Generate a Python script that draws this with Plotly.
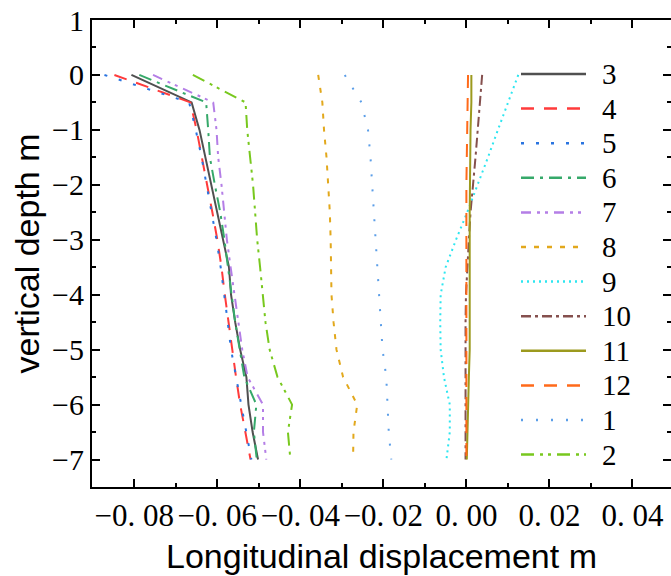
import plotly.graph_objects as go

# ---------------- data ----------------
depth = [0, -0.5, -1, -1.5, -2, -2.5, -3, -3.5, -4, -4.5, -5, -5.5, -6, -6.5, -7]

s3 = [-0.0807, -0.0662, -0.0643, -0.0629, -0.0615, -0.0600, -0.0586, -0.0572, -0.0567, -0.0557, -0.0545, -0.0530, -0.0525, -0.0515, -0.0502]
s4 = [-0.0848, -0.0665, -0.0650, -0.0637, -0.0625, -0.0612, -0.0600, -0.0590, -0.0582, -0.0573, -0.0565, -0.0555, -0.0545, -0.0532, -0.0520]
s5 = [-0.0872, -0.0668, -0.0652, -0.0638, -0.0626, -0.0614, -0.0602, -0.0592, -0.0583, -0.0575, -0.0567, -0.0555, -0.0542, -0.0530, -0.0518]
s6 = [-0.0788, -0.0627, -0.0622, -0.0618, -0.0606, -0.0593, -0.0583, -0.0574, -0.0565, -0.0557, -0.0546, -0.0535, -0.0506, -0.0512, -0.0505]
s7 = [-0.0755, -0.0610, -0.0602, -0.0598, -0.0590, -0.0584, -0.0577, -0.0568, -0.0559, -0.0550, -0.0540, -0.0527, -0.0490, -0.0490, -0.0482]
s8 = [-0.0357, -0.0347, -0.0343, -0.0337, -0.0333, -0.0329, -0.0327, -0.0326, -0.0325, -0.0320, -0.0313, -0.0297, -0.0263, -0.0272, -0.0273]
s9 = [0.0125, 0.0100, 0.0076, 0.0052, 0.0027, 0.0002, -0.0025, -0.0050, -0.0062, -0.0063, -0.0062, -0.0054, -0.0040, -0.0040, -0.0048]
s10 = [0.0038, 0.0033, 0.0027, 0.0022, 0.0016, 0.0010, 0.0006, 0.0002, -0.0001, -0.0002, -0.0002, -0.0001, -0.0001, -0.0002, -0.0002]
s11 = [0.0012, 0.0012, 0.0010, 0.0009, 0.0008, 0.0008, 0.0008, 0.0008, 0.0008, 0.0008, 0.0008, 0.0006, 0.0004, 0.0002, 0.0001]
s12 = [0.0004, 0.0003, 0.0001, 0.0000, 0.0000, 0.0000, 0.0000, 0.0000, 0.0000, 0.0000, 0.0000, 0.0000, 0.0000, 0.0000, 0.0000]
s1 = [-0.0293, -0.0253, -0.0237, -0.0231, -0.0227, -0.0223, -0.0218, -0.0214, -0.0211, -0.0207, -0.0202, -0.0193, -0.0190, -0.0187, -0.0181]
s2 = [-0.0659, -0.0532, -0.0528, -0.0521, -0.0514, -0.0509, -0.0504, -0.0497, -0.0491, -0.0484, -0.0474, -0.0455, -0.0420, -0.0430, -0.0424]

names = ["3", "4", "5", "6", "7", "8", "9", "10", "11", "12", "1", "2"]
values = [s3, s4, s5, s6, s7, s8, s9, s10, s11, s12, s1, s2]

x_tickvals = [-0.08, -0.06, -0.04, -0.02, 0.0, 0.02, 0.04]
x_ticktext = ["\u22120. 08", "\u22120. 06", "\u22120. 04", "\u22120. 02", "0. 00", "0. 02", "0. 04"]
y_tickvals = [1, 0, -1, -2, -3, -4, -5, -6, -7]
y_ticktext = ["1", "0", "\u22121", "\u22122", "\u22123", "\u22124", "\u22125", "\u22126", "\u22127"]

# ---------------- styles ----------------
colors = ["#505050", "#ff3b3b", "#2a74e0", "#36a96a", "#b47ee6", "#e2a81c",
          "#2ee6f0", "#85504e", "#9c9a1e", "#ff6a1a", "#5b9ee8", "#78c81e"]
dashes = ["solid", "13px,10px", "3px,12px", "13px,6px,3px,6px", "10px,6px,3px,5px,3px,6px", "5px,8px",
          "2px,4px", "10px,4px,3px,4px", "solid", "13px,10px", "2px,13px", "13px,6px,3px,5px,3px,6px"]

W, H = 671, 576
L, R, T, B = 92, 0, 20, 89
pw, ph = W - L - R, H - T - B

fig = go.Figure()
for nm, v, c, d in zip(names, values, colors, dashes):
    fig.add_trace(go.Scatter(x=v, y=depth, mode="lines", name=nm,
                             line=dict(color=c, width=2, dash=d), showlegend=False))

# invisible trace to activate the right-hand tick axis
fig.add_trace(go.Scatter(x=s3, y=depth, yaxis="y2", mode="lines", opacity=0,
                         showlegend=False, hoverinfo="skip"))

# custom legend (long line samples like the reference)
leg_x0, leg_x1, leg_tx = 521, 586, 600
leg_y0, leg_dy = 74, 34.6
for i, (nm, c, d) in enumerate(zip(names, colors, dashes)):
    py = leg_y0 + i * leg_dy
    yp = (H - B - py) / ph
    fig.add_shape(type="line", xref="paper", yref="paper",
                  x0=(leg_x0 - L) / pw, x1=(leg_x1 - L) / pw, y0=yp, y1=yp,
                  line=dict(color=c, width=2.5, dash=d))
    fig.add_annotation(xref="paper", yref="paper", x=(leg_tx - L) / pw, y=yp,
                       text=nm, showarrow=False, xanchor="left", yanchor="middle",
                       font=dict(family="Liberation Serif", size=29, color="black"))

axis_common = dict(showgrid=False, zeroline=False, ticks="inside", ticklen=8,
                   tickwidth=2, tickcolor="black")

fig.update_layout(
    width=W, height=H,
    margin=dict(l=L, r=R, t=T, b=B),
    paper_bgcolor="white", plot_bgcolor="white",
    xaxis=dict(range=[-0.0902, 0.0493], tickvals=x_tickvals, ticktext=x_ticktext,
               showline=True, linecolor="black", linewidth=2, mirror="ticks",
               tickfont=dict(family="Liberation Serif", size=31, color="black"),
               minor=dict(dtick=0.01, tick0=0, ticks="inside", ticklen=4, tickwidth=2, tickcolor="black"),
               title=dict(text="Longitudinal displacement m",
                          font=dict(family="Liberation Sans", size=34, color="black"), standoff=12),
               **axis_common),
    yaxis=dict(range=[-7.5, 1], tickvals=y_tickvals, ticktext=y_ticktext,
               showline=True, linecolor="black", linewidth=2, mirror=False,
               tickfont=dict(family="Liberation Serif", size=30, color="black"),
               minor=dict(dtick=0.5, tick0=0, ticks="inside", ticklen=4, tickwidth=2, tickcolor="black"),
               title=dict(text="vertical depth m",
                          font=dict(family="Liberation Sans", size=34, color="black"), standoff=2),
               **axis_common),
    yaxis2=dict(range=[-7.5, 1], overlaying="y", side="right", anchor="x",
                tickvals=y_tickvals, showticklabels=False, showline=False,
                showgrid=False, zeroline=False, ticks="inside", ticklen=8, tickwidth=2,
                tickcolor="black",
                minor=dict(dtick=0.5, tick0=0, ticks="inside", ticklen=4, tickwidth=2, tickcolor="black")),
    showlegend=False,
)

fig.write_html("out.html")
